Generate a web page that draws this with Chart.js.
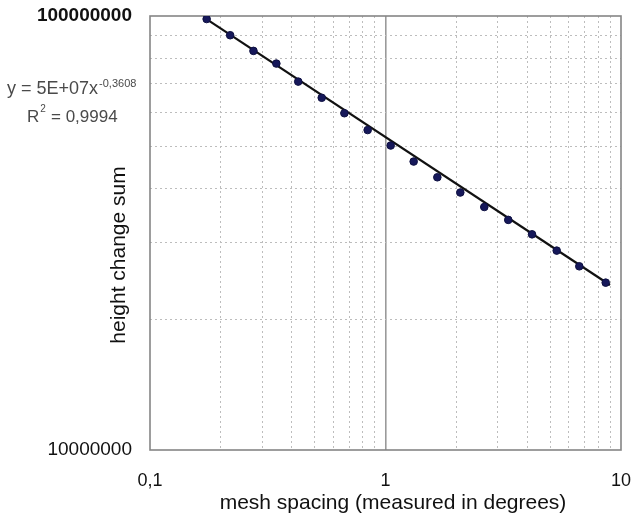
<!DOCTYPE html>
<html>
<head>
<meta charset="utf-8">
<script src="https://cdn.jsdelivr.net/npm/chart.js@4.4.1/dist/chart.umd.min.js"></script>
<style>
  html, body { margin: 0; padding: 0; background: #fff; }
  #wrap { width: 632px; height: 518px; }
</style>
</head>
<body>
<div id="wrap"><canvas id="chart" width="632" height="518"></canvas></div>
<script>
// data
const meshSpacing = [0.174, 0.219, 0.275, 0.344, 0.426, 0.536, 0.669, 0.840, 1.052,
                     1.317, 1.660, 2.078, 2.627, 3.321, 4.190, 5.333, 6.651, 8.610];
const heightChangeSum = [9.84e7, 9.03e7, 8.31e7, 7.77e7, 7.06e7, 6.48e7, 5.97e7, 5.46e7, 5.03e7,
                         4.62e7, 4.25e7, 3.92e7, 3.63e7, 3.39e7, 3.14e7, 2.88e7, 2.65e7, 2.43e7];
// power trend line end points
const trendX = [0.1712, 8.98];
const trendY = [9.89e7, 2.40e7];

const xTickValues = [0.1, 1, 10];
const xTickLabels = ['0,1', '1', '10'];
const yTickValues = [1e7, 1e8];
const yTickLabels = ['10000000', '100000000'];

const xTitle = 'mesh spacing (measured in degrees)';
const yTitle = 'height change sum';

const FONT = '"Liberation Sans", Arial, sans-serif';

function isMajor(v) {
  const l = Math.log10(v);
  return Math.abs(l - Math.round(l)) < 1e-6;
}
// only 1..9 x 10^n get a grid line
function isWholeStep(v) {
  const m = v / Math.pow(10, Math.floor(Math.log10(v) + 1e-9));
  return Math.abs(m - Math.round(m)) < 1e-6;
}
function labelFor(v, values, labels) {
  for (let i = 0; i < values.length; i++) {
    if (Math.abs(v - values[i]) / values[i] < 1e-6) return labels[i];
  }
  return '';
}
function noPad(s) {
  s.paddingLeft = 0; s.paddingRight = 0; s.paddingTop = 0; s.paddingBottom = 0;
}

// frame round the plot area, axis titles, trend equation text
const decorPlugin = {
  id: 'decor',
  beforeDatasetsDraw(chart) {
    const { ctx, chartArea: a } = chart;
    ctx.save();
    ctx.strokeStyle = '#858585';
    ctx.lineWidth = 1.6;
    ctx.strokeRect(a.left, a.top, a.right - a.left, a.bottom - a.top);
    ctx.restore();
  },
  afterDraw(chart) {
    const ctx = chart.ctx;
    ctx.save();
    // axis titles (sit a bit off-centre in the original)
    ctx.fillStyle = '#111';
    ctx.font = '21px ' + FONT;
    ctx.textAlign = 'center';
    ctx.textBaseline = 'middle';
    ctx.fillText(xTitle, 393, 503);
    ctx.save();
    ctx.translate(119, 255);
    ctx.rotate(-Math.PI / 2);
    ctx.fillText(yTitle, 0, 0);
    ctx.restore();

    ctx.fillStyle = '#4a4a4a';
    ctx.textBaseline = 'alphabetic';
    ctx.textAlign = 'left';
    ctx.font = '18px ' + FONT;
    const t1 = 'y = 5E+07x';
    ctx.fillText(t1, 7, 94);
    const w1 = ctx.measureText(t1).width;
    ctx.font = '11px ' + FONT;
    ctx.fillText('-0,3608', 7 + w1 + 1, 87);

    ctx.font = '17px ' + FONT;
    ctx.fillText('R', 27, 122);
    const wr = ctx.measureText('R').width;
    ctx.font = '10px ' + FONT;
    ctx.fillText('2', 27 + wr + 1, 112);
    ctx.font = '17px ' + FONT;
    ctx.fillText(' = 0,9994', 27 + wr + 7, 122);
    ctx.restore();
  }
};

new Chart(document.getElementById('chart'), {
  data: {
    datasets: [
      {
        type: 'scatter',
        data: meshSpacing.map((x, i) => ({ x: x, y: heightChangeSum[i] })),
        pointRadius: 3.8,
        pointBackgroundColor: '#16185a',
        pointBorderColor: '#0d0f40',
        pointBorderWidth: 1,
        order: 1
      },
      {
        type: 'line',
        data: trendX.map((x, i) => ({ x: x, y: trendY[i] })),
        borderColor: '#111',
        borderWidth: 2.2,
        pointRadius: 0,
        fill: false,
        order: 2
      }
    ]
  },
  options: {
    responsive: false,
    animation: false,
    devicePixelRatio: 1,
    layout: { padding: { top: 16, right: 11, left: 0, bottom: 0 } },
    plugins: {
      legend: { display: false },
      tooltip: { enabled: false }
    },
    scales: {
      x: {
        type: 'logarithmic',
        min: 0.1,
        max: 10,
        afterFit: (s) => { s.height = 68; noPad(s); },
        grid: {
          drawTicks: false,
          color: (c) => {
            if (!c.tick) return 'rgba(0,0,0,0)';
            const v = c.tick.value;
            if (Math.abs(v - 0.1) < 1e-9 || Math.abs(v - 10) < 1e-6) return 'rgba(0,0,0,0)';
            if (!isWholeStep(v)) return 'rgba(0,0,0,0)';
            return Math.abs(v - 1) < 1e-9 ? '#9a9a9a' : '#bdbdbd';
          },
          lineWidth: (c) => (c.tick && Math.abs(c.tick.value - 1) < 1e-9 ? 1.6 : 1)
        },
        border: {
          display: false,
          dash: (c) => (c.tick && Math.abs(c.tick.value - 1) < 1e-9 ? [] : [2, 3])
        },
        ticks: {
          autoSkip: false,
          maxRotation: 0,
          padding: 20,
          color: '#111',
          font: { family: FONT, size: 18 },
          callback: (v) => labelFor(v, xTickValues, xTickLabels)
        },
        title: { display: false }
      },
      y: {
        type: 'logarithmic',
        min: 1e7,
        max: 1e8,
        afterFit: (s) => { s.width = 150; noPad(s); },
        grid: {
          drawTicks: false,
          color: (c) => {
            if (!c.tick || isMajor(c.tick.value) || !isWholeStep(c.tick.value)) return 'rgba(0,0,0,0)';
            return '#bdbdbd';
          },
          lineWidth: 1
        },
        border: { display: false, dash: [2, 3] },
        ticks: {
          autoSkip: false,
          padding: 18,
          color: '#111',
          font: (c) => ({
            family: FONT,
            size: 19,
            weight: c.tick && Math.abs(c.tick.value - 1e8) < 1 ? 'bold' : 'normal'
          }),
          callback: (v) => labelFor(v, yTickValues, yTickLabels)
        },
        title: { display: false }
      }
    }
  },
  plugins: [decorPlugin]
});
</script>
</body>
</html>
